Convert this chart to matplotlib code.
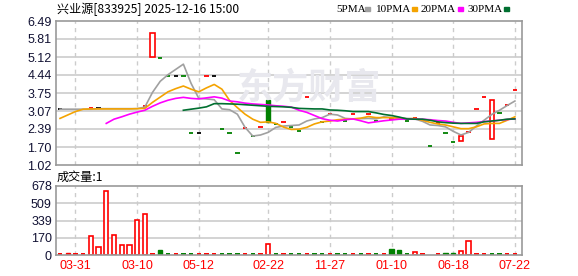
import numpy as np
import matplotlib.pyplot as plt
from matplotlib.patches import Rectangle

# ---- data ----
title = "兴业源[833925] 2025-12-16 15:00"
xlabels = ["03-31", "03-10", "05-12", "02-22", "11-27", "01-10", "06-18", "07-22"]
xlabel_idx = [2, 10, 18, 27, 35, 43, 51, 59]
price_ticks = [1.02, 1.70, 2.39, 3.07, 3.75, 4.44, 5.12, 5.81, 6.49]
vol_ticks = [0, 170, 339, 509, 678]

nan = np.nan
# candles: open, close (nan = hidden under the MA lines), colour code
opens = [3.14, nan, nan, nan, 3.17, 3.17, nan, nan, nan, nan,
         nan, 3.26, 5.11, 5.07, 4.39, 4.39, 4.39, 2.22, 2.22, 4.39,
         4.39, 2.37, 2.22, 1.49, 2.41, 2.12, 2.45, 3.49, 2.57, 2.66,
         2.47, 2.30, 3.60, nan, 2.66, 2.95, nan, 2.69, 2.95, nan,
         2.95, 2.69, nan, 2.76, nan, 2.69, 2.79, nan, 1.74, 2.60,
         2.22, 1.90, 1.94, 2.28, 3.13, 3.60, 1.99, 2.98, 3.30, 3.86]
closes = [3.14, nan, nan, nan, 3.17, 3.17, nan, nan, nan, nan,
          nan, 3.26, 6.02, 5.07, 4.39, 4.39, 4.39, 2.22, 2.22, 4.39,
          4.39, 2.37, 2.22, 1.49, 2.41, 2.12, 2.45, 2.64, 2.57, 2.66,
          2.47, 2.30, 3.60, nan, 2.66, 2.95, nan, 2.69, 2.95, nan,
          2.95, 2.69, nan, 2.76, nan, 2.69, 2.79, nan, 1.74, 2.60,
          2.22, 1.90, 2.12, 2.28, 3.13, 3.60, 3.48, 2.98, 3.30, 3.86]
ccol = ("k k k k r k k k k k "
        "k r r g g k g g k r "
        "k g g g r g r g g r "
        "g g r k g r r g r k "
        "r g k r k g r k g r "
        "g g r r r r r g r r").split()

# volume: value, colour, filled
vols = [1, 20, 1, 1, 184, 75, 626, 193, 95, 95,
        341, 403, 1, 49, 1, 1, 1, 1, 1, 1,
        1, 1, 1, 1, 1, 1, 1, 108, 1, 1,
        1, 1, 1, 1, 1, 1, 1, 1, 1, 1,
        1, 1, 1, 59, 49, 1, 26, 1, 0, 1,
        20, 20, 39, 134, 1, 1, 1, 1, 1, 1]
vcol = ("r r r r r r r r r r "
        "r r r g g r g g r r "
        "r g g g r g r r g r "
        "g g r g g r g g r g "
        "r g r g g g r r r r "
        "g g r r r r g g r r").split()
vfill = [0, 1, 0, 0, 0, 0, 0, 0, 0, 0,
         0, 0, 0, 1, 0, 0, 0, 0, 0, 0,
         0, 0, 0, 0, 0, 0, 0, 0, 0, 0,
         0, 0, 0, 0, 0, 0, 0, 0, 0, 0,
         0, 0, 0, 1, 1, 0, 0, 0, 0, 0,
         1, 1, 0, 0, 0, 0, 0, 0, 0, 0]

ma5 = [3.14, 3.14, 3.14, 3.14, 3.14, 3.16, 3.16, 3.16, 3.16, 3.16,
       3.16, 3.22, 3.78, 4.20, 4.45, 4.65, 4.85, 4.12, 3.55, 3.53,
       3.50, 3.15, 3.12, 2.95, 2.45, 2.12, 2.16, 2.26, 2.45, 2.50,
       2.52, 2.54, 2.69, 2.77, 2.82, 2.95, 2.92, 2.79, 2.77, 2.78,
       2.79, 2.77, 2.85, 2.82, 2.80, 2.79, 2.77, 2.68, 2.54, 2.52,
       2.47, 2.30, 2.16, 2.26, 2.50, 2.72, 2.94, 3.10, 3.28, 3.45]
ma10 = [2.79, 2.92, 3.05, 3.14, 3.15, 3.15, 3.15, 3.15, 3.15, 3.15,
        3.16, 3.17, 3.40, 3.60, 3.80, 3.92, 4.02, 3.90, 3.80, 3.95,
        4.08, 3.90, 3.47, 3.20, 2.95, 2.76, 2.64, 2.66, 2.60, 2.46,
        2.37, 2.38, 2.45, 2.58, 2.66, 2.69, 2.74, 2.76, 2.77, 2.80,
        2.86, 2.82, 2.82, 2.82, 2.80, 2.77, 2.79, 2.72, 2.64, 2.58,
        2.54, 2.47, 2.40, 2.40, 2.47, 2.58, 2.60, 2.60, 2.72, 2.85]
ma20 = [nan, nan, nan, nan, nan, nan, 2.60, 2.76, 2.85, 2.95,
        3.03, 3.10, 3.25, 3.38, 3.48, 3.55, 3.59, 3.55, 3.53, 3.57,
        3.61, 3.56, 3.45, 3.42, 3.37, 3.34, 3.32, 3.30, 3.27, 3.25,
        3.22, 3.10, 3.02, 2.90, 2.78, 2.72, 2.69, 2.74, 2.77, 2.70,
        2.62, 2.66, 2.70, 2.73, 2.76, 2.76, 2.76, 2.76, 2.74, 2.71,
        2.69, 2.64, 2.60, 2.62, 2.64, 2.67, 2.69, 2.72, 2.75, 2.77]
ma30 = [nan] * 16 + [3.10, 3.14, 3.18, 3.23,
        3.35, 3.35, 3.34, 3.33, 3.31, 3.29, 3.27, 3.25, 3.24, 3.23,
        3.21, 3.17, 3.16, 3.15, 3.15, 3.11, 3.10, 3.08, 3.05, 3.05,
        3.05, 3.00, 2.94, 2.90, 2.84, 2.77, 2.76, 2.76, 2.72, 2.66,
        2.63, 2.61, 2.60, 2.60, 2.60, 2.66, 2.69, 2.72, 2.76, 2.77]

RED = "#ff0000"
GREEN = "#008000"
cmap = {"r": RED, "g": GREEN, "k": "#000000"}
ma_colors = ["#a0a0a0", "#f4a300", "#ff00ff", "#006f30"]

W, H = 578, 276
fig = plt.figure(figsize=(W / 100, H / 100), dpi=100)
ax = fig.add_axes([56 / W, 1 - 165 / H, 466 / W, 144 / H])
axv = fig.add_axes([56 / W, 1 - 255 / H, 466 / W, 69 / H])

x = np.arange(len(opens))
xlim = (-0.52, 59.92)
bw = 0.56

for a in (ax, axv):
    a.set_xlim(*xlim)
    for s in a.spines.values():
        s.set_color("#999999")
        s.set_linewidth(1.2)
    a.set_xticks([])
    a.tick_params(axis="y", length=0, pad=3, labelsize=9, labelcolor="#111133")
    for xi in xlabel_idx:
        a.axvline(xi, color="#cccccc", lw=1, ls=(0, (3, 3)), zorder=0)

# price panel
ax.set_ylim(price_ticks[0], price_ticks[-1])
ax.set_yticks(price_ticks)
ax.set_yticklabels([f"{t:.2f}" for t in price_ticks], family="Liberation Sans")
for t in price_ticks[1:-1]:
    ax.axhline(t, color="#cccccc", lw=1.2, zorder=0)

fig.text(309 / W, 1 - 88 / H, "东方财富", fontsize=26, fontweight="bold",
         color="#e8e8ee", family="Noto Sans CJK SC", ha="center", va="center", zorder=0)

for i in x:
    o, c = opens[i], closes[i]
    if np.isnan(o):
        continue
    col = cmap[ccol[i]]
    if abs(c - o) < 0.01:
        ax.hlines(o, i - bw / 2, i + bw / 2, color=col, lw=1.3, zorder=2)
    elif ccol[i] == "r":
        ax.add_patch(Rectangle((i - bw / 2, min(o, c)), bw, abs(c - o), facecolor="white",
                               edgecolor=col, lw=1.2, zorder=2))
    else:
        ax.add_patch(Rectangle((i - bw / 2, min(o, c)), bw, abs(c - o), facecolor=col,
                               edgecolor=col, lw=1.0, zorder=2))

for ma, mc in zip([ma5, ma10, ma20, ma30], ma_colors):
    ax.plot(x, ma, color=mc, lw=1.2, zorder=3)

# volume panel
axv.set_ylim(0, 678)
axv.set_yticks([0, 169.5, 339, 508.5, 678])
axv.set_yticklabels([str(v) for v in vol_ticks], family="Liberation Sans")
for t in [169.5, 339, 508.5]:
    axv.axhline(t, color="#cccccc", lw=1.2, zorder=0)
for i in x:
    if vols[i] <= 0:
        continue
    col = cmap[vcol[i]]
    if vols[i] <= 2:
        axv.hlines(13, i - bw / 2, i + bw / 2, color=col, lw=1.4, zorder=2)
    elif vfill[i]:
        axv.bar(i, vols[i], width=bw, color=col, edgecolor=col, lw=1.0, zorder=2)
    else:
        axv.bar(i, vols[i], width=bw, facecolor="white", edgecolor=col, lw=1.2, zorder=2)

# x labels under the volume panel
for xi, lab in zip(xlabel_idx, xlabels):
    xf = 56 + (xi - xlim[0]) / (xlim[1] - xlim[0]) * 466
    fig.text(xf / W, 1 - 266 / H, lab, color=RED, fontsize=9, family="Liberation Sans",
             ha="center", va="center")

# header texts
fig.text(57 / W, 1 - 9 / H, title, fontsize=8.7, family=["Noto Sans CJK SC", "DejaVu Sans"],
         va="center", ha="left")
fig.text(57 / W, 1 - 177 / H, "成交量:1", fontsize=8.7, family=["Noto Sans CJK SC", "DejaVu Sans"],
         va="center", ha="left")

leg_names = ["5PMA", "10PMA", "20PMA", "30PMA"]
leg_x = [336, 376, 421, 467]
sq_x = [365, 412, 458, 504]
for name, lx, sx, mc in zip(leg_names, leg_x, sq_x, ma_colors):
    fig.text(lx / W, 1 - 9 / H, name, fontsize=8, family="Liberation Serif",
             va="center", ha="left")
    fig.patches.append(Rectangle((sx / W, 1 - 10.5 / H), 5 / W, 3.5 / H, color=mc,
                                 transform=fig.transFigure, figure=fig))

fig.savefig("out.png", dpi=100)
